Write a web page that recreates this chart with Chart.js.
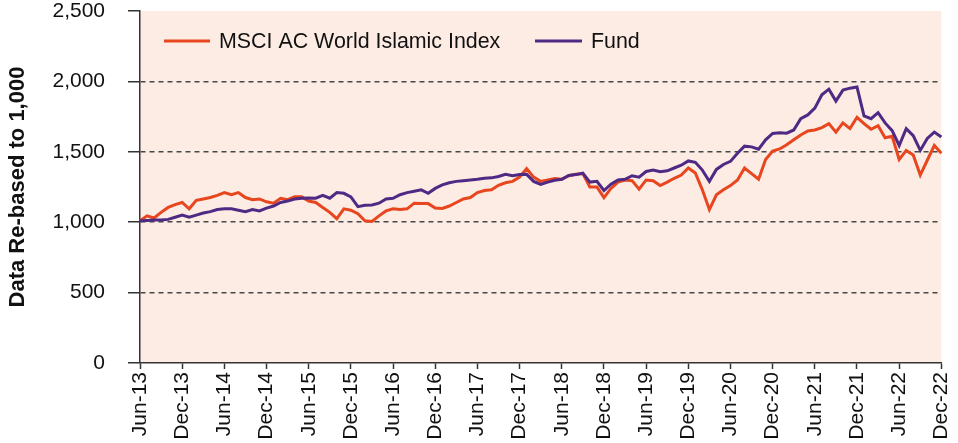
<!DOCTYPE html>
<html>
<head>
<meta charset="utf-8">
<script src="https://cdn.jsdelivr.net/npm/chart.js@4.4.1/dist/chart.umd.min.js"></script>
<style>
  html, body { margin: 0; padding: 0; background: #ffffff; }
  #wrap { width: 958px; height: 443px; position: relative; }
</style>
</head>
<body>
<div id="wrap"><canvas id="c"></canvas></div>
<script>
const months = [
  'Jun-13','Jul-13','Aug-13','Sep-13','Oct-13','Nov-13','Dec-13',
  'Jan-14','Feb-14','Mar-14','Apr-14','May-14','Jun-14','Jul-14','Aug-14','Sep-14','Oct-14','Nov-14','Dec-14',
  'Jan-15','Feb-15','Mar-15','Apr-15','May-15','Jun-15','Jul-15','Aug-15','Sep-15','Oct-15','Nov-15','Dec-15',
  'Jan-16','Feb-16','Mar-16','Apr-16','May-16','Jun-16','Jul-16','Aug-16','Sep-16','Oct-16','Nov-16','Dec-16',
  'Jan-17','Feb-17','Mar-17','Apr-17','May-17','Jun-17','Jul-17','Aug-17','Sep-17','Oct-17','Nov-17','Dec-17',
  'Jan-18','Feb-18','Mar-18','Apr-18','May-18','Jun-18','Jul-18','Aug-18','Sep-18','Oct-18','Nov-18','Dec-18',
  'Jan-19','Feb-19','Mar-19','Apr-19','May-19','Jun-19','Jul-19','Aug-19','Sep-19','Oct-19','Nov-19','Dec-19',
  'Jan-20','Feb-20','Mar-20','Apr-20','May-20','Jun-20','Jul-20','Aug-20','Sep-20','Oct-20','Nov-20','Dec-20',
  'Jan-21','Feb-21','Mar-21','Apr-21','May-21','Jun-21','Jul-21','Aug-21','Sep-21','Oct-21','Nov-21','Dec-21',
  'Jan-22','Feb-22','Mar-22','Apr-22','May-22','Jun-22','Jul-22','Aug-22','Sep-22','Oct-22','Nov-22','Dec-22'
];

const tickLabels = [
  'Jun-13','Dec-13','Jun-14','Dec-14','Jun-15','Dec-15','Jun-16','Dec-16','Jun-17','Dec-17',
  'Jun-18','Dec-18','Jun-19','Dec-19','Jun-20','Dec-20','Jun-21','Dec-21','Jun-22','Dec-22'
];

const yTicks = [0, 500, 1000, 1500, 2000, 2500];

const seriesNames = ['MSCI AC World Islamic Index', 'Fund'];

const msciIndex = [
  1010,1045,1030,1070,1105,1125,1140,
  1095,1155,1165,1175,1190,1210,1195,1210,1175,1160,1165,1145,
  1135,1170,1160,1180,1180,1150,1140,1105,1070,1025,1095,1085,
  1060,1010,1005,1045,1080,1095,1090,1095,1135,1132,1132,1100,
  1098,1115,1140,1165,1175,1210,1225,1230,1262,1280,1290,1320,
  1380,1320,1290,1300,1310,1305,1330,1340,1345,1250,1250,1175,
  1240,1285,1300,1295,1235,1300,1295,1260,1285,1312,1335,1385,
  1350,1230,1090,1195,1230,1260,1300,1385,1345,1305,1445,1505,
  1520,1550,1585,1620,1648,1655,1672,1700,1640,1705,1665,1745,
  1700,1660,1685,1600,1610,1445,1510,1478,1335,1440,1545,1490
];

const fund = [
  1010,1012,1015,1015,1020,1035,1050,
  1035,1050,1065,1075,1090,1095,1095,1085,1075,1090,1080,1100,
  1115,1140,1150,1165,1170,1172,1170,1190,1170,1210,1205,1180,
  1110,1120,1122,1135,1165,1170,1195,1210,1220,1230,1205,1240,
  1265,1280,1290,1295,1300,1305,1312,1315,1325,1340,1330,1338,
  1340,1290,1268,1285,1298,1305,1332,1338,1348,1285,1290,1225,
  1270,1300,1305,1330,1320,1360,1370,1358,1365,1385,1405,1435,
  1425,1370,1290,1375,1410,1432,1490,1540,1535,1518,1585,1630,
  1635,1632,1655,1735,1762,1810,1905,1945,1860,1938,1952,1960,
  1755,1735,1778,1705,1650,1545,1665,1615,1510,1595,1640,1605
];

const seriesColors = ['#E8461E', '#4E2A84'];

const FONT = "'Liberation Sans', Arial, Helvetica, sans-serif";

const plotBg = {
  id: 'plotBg',
  beforeDraw(chart) {
    const { ctx, chartArea: a } = chart;
    ctx.save();
    ctx.fillStyle = '#FDECE4';
    ctx.fillRect(a.left, a.top, a.right - a.left, a.bottom - a.top);
    ctx.restore();
  }
};

const insideLegend = {
  id: 'insideLegend',
  afterDatasetsDraw(chart) {
    const { ctx, chartArea: a } = chart;
    const items = [
      { x0: 24, x1: 70, tx: 79 },
      { x0: 395, x1: 442, tx: 451 }
    ];
    const y = a.top + 30;
    ctx.save();
    ctx.font = '21.4px ' + FONT;
    ctx.textBaseline = 'middle';
    ctx.textAlign = 'left';
    chart.data.datasets.forEach((ds, i) => {
      const it = items[i];
      ctx.strokeStyle = ds.borderColor;
      ctx.lineWidth = 3;
      ctx.beginPath();
      ctx.moveTo(a.left + it.x0, y);
      ctx.lineTo(a.left + it.x1, y);
      ctx.stroke();
      ctx.fillStyle = '#111111';
      ctx.fillText(ds.label, a.left + it.tx, y + 1);
    });
    ctx.restore();
  }
};

new Chart(document.getElementById('c'), {
  type: 'line',
  data: {
    labels: months,
    datasets: [
      {
        label: seriesNames[0],
        data: msciIndex,
        borderColor: seriesColors[0],
        backgroundColor: seriesColors[0],
        borderWidth: 3,
        pointRadius: 0,
        tension: 0,
        order: 1
      },
      {
        label: seriesNames[1],
        data: fund,
        borderColor: seriesColors[1],
        backgroundColor: seriesColors[1],
        borderWidth: 3,
        pointRadius: 0,
        tension: 0,
        order: 0
      }
    ]
  },
  plugins: [plotBg, insideLegend],
  options: {
    responsive: true,
    maintainAspectRatio: false,
    animation: false,
    layout: { padding: { left: 0, top: 11, right: 0, bottom: 0 } },
    plugins: {
      legend: { display: false },
      tooltip: { enabled: false }
    },
    scales: {
      x: {
        type: 'category',
        offset: false,
        afterFit(scale) { scale.height = 80; },
        grid: {
          drawOnChartArea: false,
          drawTicks: true,
          tickLength: 6,
          tickWidth: 1.5,
          tickColor: (ctx) => (ctx.tick && tickLabels.includes(months[ctx.index])) ? '#333333' : 'rgba(0,0,0,0)'
        },
        border: { display: true, color: '#333333', width: 1.5 },
        ticks: {
          autoSkip: false,
          maxRotation: 90,
          minRotation: 90,
          padding: 3,
          color: '#111111',
          font: { family: FONT, size: 21, lineHeight: 0.65 },
          callback: function (value, index) {
            const lab = months[index];
            return tickLabels.includes(lab) ? lab : '';
          }
        }
      },
      y: {
        min: yTicks[0],
        max: yTicks[yTicks.length - 1],
        afterFit(scale) { scale.width = 140; },
        afterBuildTicks(scale) { scale.ticks = yTicks.map(v => ({ value: v })); },
        grid: {
          drawOnChartArea: true,
          drawTicks: true,
          tickLength: 35,
          tickWidth: 1.5,
          tickColor: '#333333',
          tickBorderDash: [0, 23, 12, 60],
          lineWidth: 1.6,
          color: (ctx) => (ctx.tick && (ctx.tick.value === 0 || ctx.tick.value === 2500)) ? 'rgba(0,0,0,0)' : '#474747'
        },
        border: { display: true, color: '#333333', width: 1.5, dash: [5, 4] },
        ticks: {
          padding: 0,
          color: '#111111',
          font: { family: FONT, size: 21, lineHeight: 1 },
          callback: (v) => Number(v).toLocaleString('en-US')
        },
        title: {
          display: true,
          text: 'Data Re-based to 1,000',
          color: '#111111',
          font: { family: FONT, size: 22, weight: 'bold', lineHeight: 1.2 },
          padding: { top: 5, bottom: 0 }
        }
      }
    }
  }
});
</script>
</body>
</html>
